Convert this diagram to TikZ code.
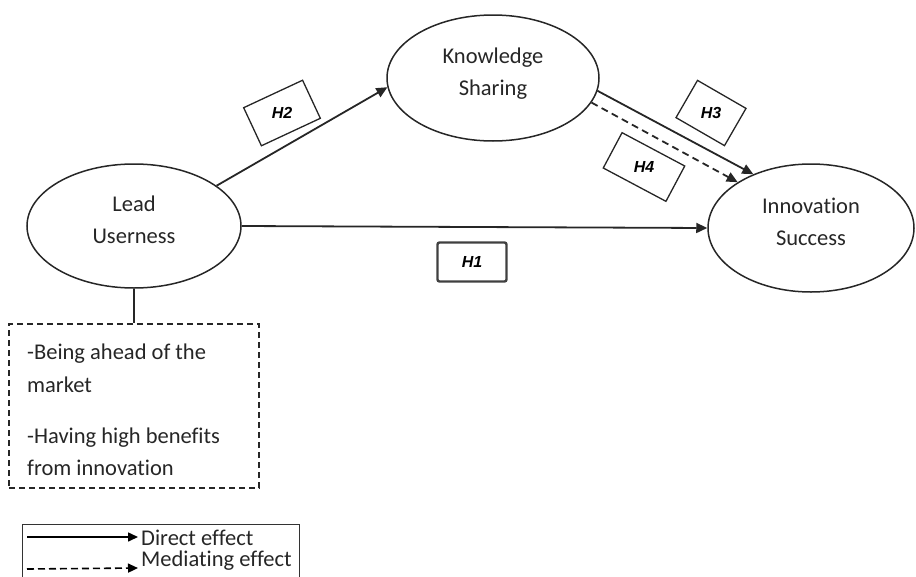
\documentclass[tikz,border=0pt]{standalone}
\usepackage{fontspec}
\setmainfont{Carlito}[Ligatures={NoCommon}]
\newfontfamily\hfont{Liberation Sans}
\usetikzlibrary{shapes.geometric,arrows.meta}
\newcommand\topS{\rule{0pt}{17pt}}
\newcommand\botS{\rule[-15pt]{0pt}{15pt}}
\begin{document}
\begin{tikzpicture}[x=1pt,y=-1pt,
  txt/.style={text=black!85, font=\fontsize{22.5}{32}\selectfont},
  construct/.style={ellipse, draw=black!85, line width=1.5pt, inner sep=0pt, align=center, txt},
  hbox/.style={draw=black!85, line width=1.3pt, inner sep=0pt},
  hlabel/.style={inner sep=0pt, text=black, font=\hfont\bfseries\itshape\fontsize{16}{18}\selectfont},
  link/.style={line width=1.8pt, draw=black!85, -{Triangle[length=11pt,width=10pt]}},
  medlink/.style={link, dash pattern=on 7pt off 4.5pt},
  dbox/.style={draw=black!85, line width=1.3pt, dash pattern=on 6pt off 4pt},
  itemtxt/.style={txt, anchor=base west, inner sep=0pt},
  legtip/.style={line width=1.6pt, draw=black, -{Triangle[length=10pt,width=9pt]}}
]
\useasboundingbox (0,0) rectangle (916,576);

% constructs
\node[construct, minimum width=212, minimum height=126] (ks) at (493,78) {\topS Knowledge\\Sharing\botS};
\node[construct, minimum width=214, minimum height=124] (lu) at (134,226) {\topS Lead\\Userness\botS};
\node[construct, minimum width=206, minimum height=128] (is) at (811,228) {\topS Innovation\\Success\botS};

% paths
\draw[link] (lu.26) -- (ks.185);
\draw[link] (lu.east) -- (is.west);
\draw[link] (ks.-7) -- (is.137);
\draw[medlink] (ks.-14) -- (is.148);

% hypothesis labels
\node[hbox, minimum width=65, minimum height=42, rotate=25] (h2) at (282,113) {};
\node[hlabel] (h2t) at (h2.center) {H2};
\node[hbox, minimum width=56, minimum height=43, rotate=-30] (h3) at (711,113) {};
\node[hlabel] (h3t) at (h3.center) {H3};
\node[hbox, minimum width=71, minimum height=40, rotate=-28] (h4) at (644,167) {};
\node[hlabel] (h4t) at (h4.center) {H4};
\node[hbox, hlabel, draw=black!75, line width=2.4pt, rounded corners=2pt, minimum width=69, minimum height=39] (h1) at (472,262) {H1};

% dimensions box
\node[dbox, minimum width=250, minimum height=164] (db) at (134,406) {};
\draw[line width=1.5pt, black!85] (lu.south) -- (db.north);
\node[itemtxt] (i1) at (27,359) {-Being ahead of the};
\node[itemtxt] (i2) at (27,392) {market};
\node[itemtxt] (i3) at (27,443) {-Having high benefits};
\node[itemtxt] (i4) at (27,475) {from innovation};

% legend
\draw[black!80, line width=1pt] (22,578) -- (22,524) -- (299,524) -- (299,578);
\coordinate (d1) at (27,537);
\coordinate (d2) at (138,537);
\coordinate (m1) at (27,569);
\coordinate (m2) at (138,568);
\draw[legtip] (d1) -- (d2);
\draw[legtip, dash pattern=on 7pt off 4pt] (m1) -- (m2);
\node[itemtxt] (dtxt) at (141,545) {Direct effect};
\node[itemtxt] (mtxt) at (141,566) {Mediating effect};
\end{tikzpicture}
\end{document}
